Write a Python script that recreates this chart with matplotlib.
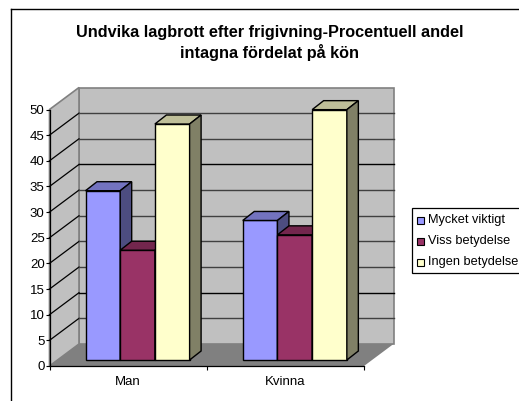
import matplotlib
matplotlib.use('Agg')
import matplotlib.pyplot as plt
from matplotlib.patches import Polygon, Rectangle
from matplotlib.lines import Line2D

plt.rcParams['font.family'] = ['Liberation Sans', 'DejaVu Sans']

# values
categories = ['Man', 'Kvinna']
series = ['Mycket viktigt', 'Viss betydelse', 'Ingen betydelse']
mycket = [33, 27.2]
viss = [21.4, 24.4]
ingen = [46, 48.8]
yticks = list(range(0, 55, 5))

title = 'Undvika lagbrott efter frigivning-Procentuell andel\nintagna fördelat på kön'

front = ['#9999ff', '#993366', '#ffffcc']
top = ['#7373bf', '#73264d', '#bfbf99']
side = ['#4d4d80', '#4d1a33', '#808066']

W, H = 519, 401
fig = plt.figure(figsize=(W / 100, H / 100), dpi=100)
ax = fig.add_axes([49.5 / W, 1 - 366 / H, (364 - 49.5) / W, (366 - 109.5) / H])
ax.set_xlim(0, 2)
ax.set_ylim(0, 50)
ax.patch.set_visible(False)

# depth of the fake 3d box, in data units
px_x = 2 / (364 - 49.5)
px_y = 50 / (366 - 109.5)
dx = 29.5 * px_x
dy = 22 * px_y
bar_w = 34.7 * px_x
bar_dx = 11.5 * px_x
bar_dy = 9 * px_y
start = 36 * px_x
shift_y = 6 * px_y

def poly(pts, fc, ec='none', lw=0, z=1):
    ax.add_patch(Polygon(pts, closed=True, facecolor=fc, edgecolor=ec, linewidth=lw,
                         zorder=z, clip_on=False))

# walls and floor
poly([(dx, dy), (2 + dx, dy), (2 + dx, 50 + dy), (dx, 50 + dy)], '#c0c0c0', '#808080', 1.2, 1)
poly([(0, 0), (dx, dy), (dx, 50 + dy), (0, 50)], '#c0c0c0', '#808080', 1.2, 1)
poly([(0, 0), (2, 0), (2 + dx, dy), (dx, dy)], '#808080', z=1)

# gridlines, the renderer left two of them darker
for v in yticks[1:-1]:
    col = '#000000' if v in (10, 35) else '#404040'
    ax.plot([0, dx], [v, v + dy], color='black', lw=0.9, zorder=2, clip_on=False)
    ax.plot([dx, 2 + dx], [v + dy, v + dy], color=col, lw=1.0, zorder=2, clip_on=False)

# bars
values = [mycket, viss, ingen]
for c in range(len(categories)):
    for s in range(len(series)):
        x0 = c + start + s * bar_w
        x1 = x0 + bar_w
        v = values[s][c]
        y0 = shift_y
        y1 = shift_y + v
        poly([(x0, y0), (x1, y0), (x1, y1), (x0, y1)], front[s], '#000000', 1.0, 3 + s)
        poly([(x0, y1), (x1, y1), (x1 + bar_dx, y1 + bar_dy), (x0 + bar_dx, y1 + bar_dy)],
             top[s], '#000000', 1.0, 3 + s)
        poly([(x1, y0), (x1 + bar_dx, y0 + bar_dy), (x1 + bar_dx, y1 + bar_dy), (x1, y1)],
             side[s], '#000000', 1.0, 3 + s)

# axes
for name in ['top', 'right']:
    ax.spines[name].set_visible(False)
for name in ['left', 'bottom']:
    ax.spines[name].set_linewidth(0.9)
    ax.spines[name].set_zorder(10)
ax.set_yticks(yticks)
ax.set_xticks([0, 1, 2])
ax.set_xticklabels([])
ax.set_xticks([0.5, 1.5], minor=True)
ax.set_xticklabels(categories, minor=True)
ax.tick_params(axis='x', which='minor', length=0, labelsize=9.5, pad=7)
ax.tick_params(axis='x', which='major', length=3, width=0.8)
ax.tick_params(axis='y', length=3, width=0.8, labelsize=9.5, pad=0.5)

fig.text(270 / W, 1 - 43 / H, title, ha='center', va='center', fontsize=11.7,
         fontweight='bold', linespacing=1.32)

# border of the chart area
fig.add_artist(Line2D([10.5 / W, 10.5 / W], [0, 1 - 8.5 / H], color='black', lw=1))
fig.add_artist(Line2D([10.5 / W, 1], [1 - 8.5 / H, 1 - 8.5 / H], color='black', lw=1))

# legend box, runs off the right edge
fig.add_artist(Rectangle((411.5 / W, 1 - 272.5 / H), 110 / W, 64.5 / H, transform=fig.transFigure,
                         facecolor='white', edgecolor='black', lw=0.9))
for i, s in enumerate(series):
    yc = 220 + i * 21
    fig.add_artist(Rectangle((416.5 / W, 1 - (yc + 3.5) / H), 7 / W, 7 / H, transform=fig.transFigure,
                             facecolor=front[i], edgecolor='black', lw=0.8))
    fig.text(428 / W, 1 - yc / H, s, ha='left', va='center', fontsize=9.2)

fig.savefig('out.png', dpi=100)
